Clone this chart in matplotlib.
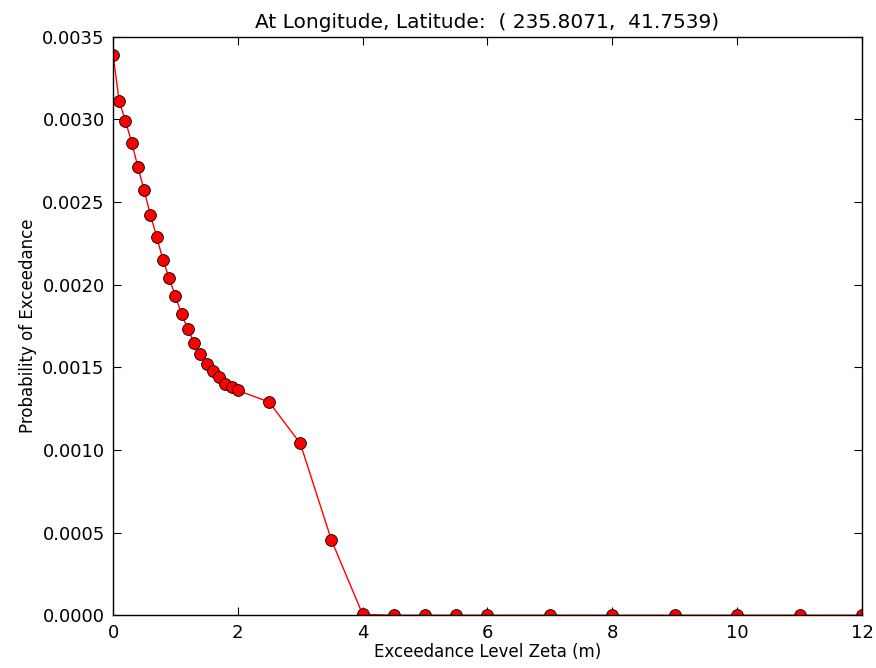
import matplotlib
matplotlib.use("Agg")
import matplotlib.pyplot as plt

# Exceedance levels (m) and probabilities
zeta = [0.0, 0.1, 0.2, 0.3, 0.4, 0.5, 0.6, 0.7, 0.8, 0.9, 1.0,
        1.1, 1.2, 1.3, 1.4, 1.5, 1.6, 1.7, 1.8, 1.9, 2.0,
        2.5, 3.0, 3.5, 4.0, 4.5, 5.0, 5.5, 6.0, 7.0, 8.0, 9.0, 10.0, 11.0, 12.0]
prob = [0.00339, 0.00311, 0.00299, 0.00286, 0.00271, 0.00257, 0.00242, 0.00229,
        0.00215, 0.00204, 0.00193, 0.00182, 0.00173, 0.00165, 0.00158, 0.00152,
        0.00148, 0.00144, 0.00140, 0.00138, 0.00136, 0.00129, 0.00104, 0.000454,
        0.000005, 0.0, 0.0, 0.0, 0.0, 0.0, 0.0, 0.0, 0.0, 0.0, 0.0]

title = "At Longitude, Latitude:  ( 235.8071,  41.7539)"

fig = plt.figure(figsize=(8.76, 6.68), dpi=100)
ax = fig.add_axes([0.129, 0.079, 0.855, 0.866])
ax.plot(zeta, prob, 'r-', marker='o', markersize=8.5, markerfacecolor='red',
        markeredgecolor='black', markeredgewidth=0.6, linewidth=1.0)
ax.set_xlim(0, 12)
ax.set_ylim(0, 0.0035)
ax.set_xticks([0, 2, 4, 6, 8, 10, 12])
ax.set_yticks([0.0, 0.0005, 0.0010, 0.0015, 0.0020, 0.0025, 0.0030, 0.0035])
ax.yaxis.set_major_formatter(matplotlib.ticker.FormatStrFormatter('%.4f'))
ax.tick_params(direction='in', top=True, right=True, length=6, labelsize=13, pad=6)
ax.set_title(title, fontsize=14.5)
ax.set_xlabel("Exceedance Level Zeta (m)", fontsize=12, labelpad=1)
ax.set_ylabel("Probability of Exceedance", fontsize=12)
for s in ax.spines.values():
    s.set_linewidth(1.0)

fig.savefig("out.png", dpi=100)
